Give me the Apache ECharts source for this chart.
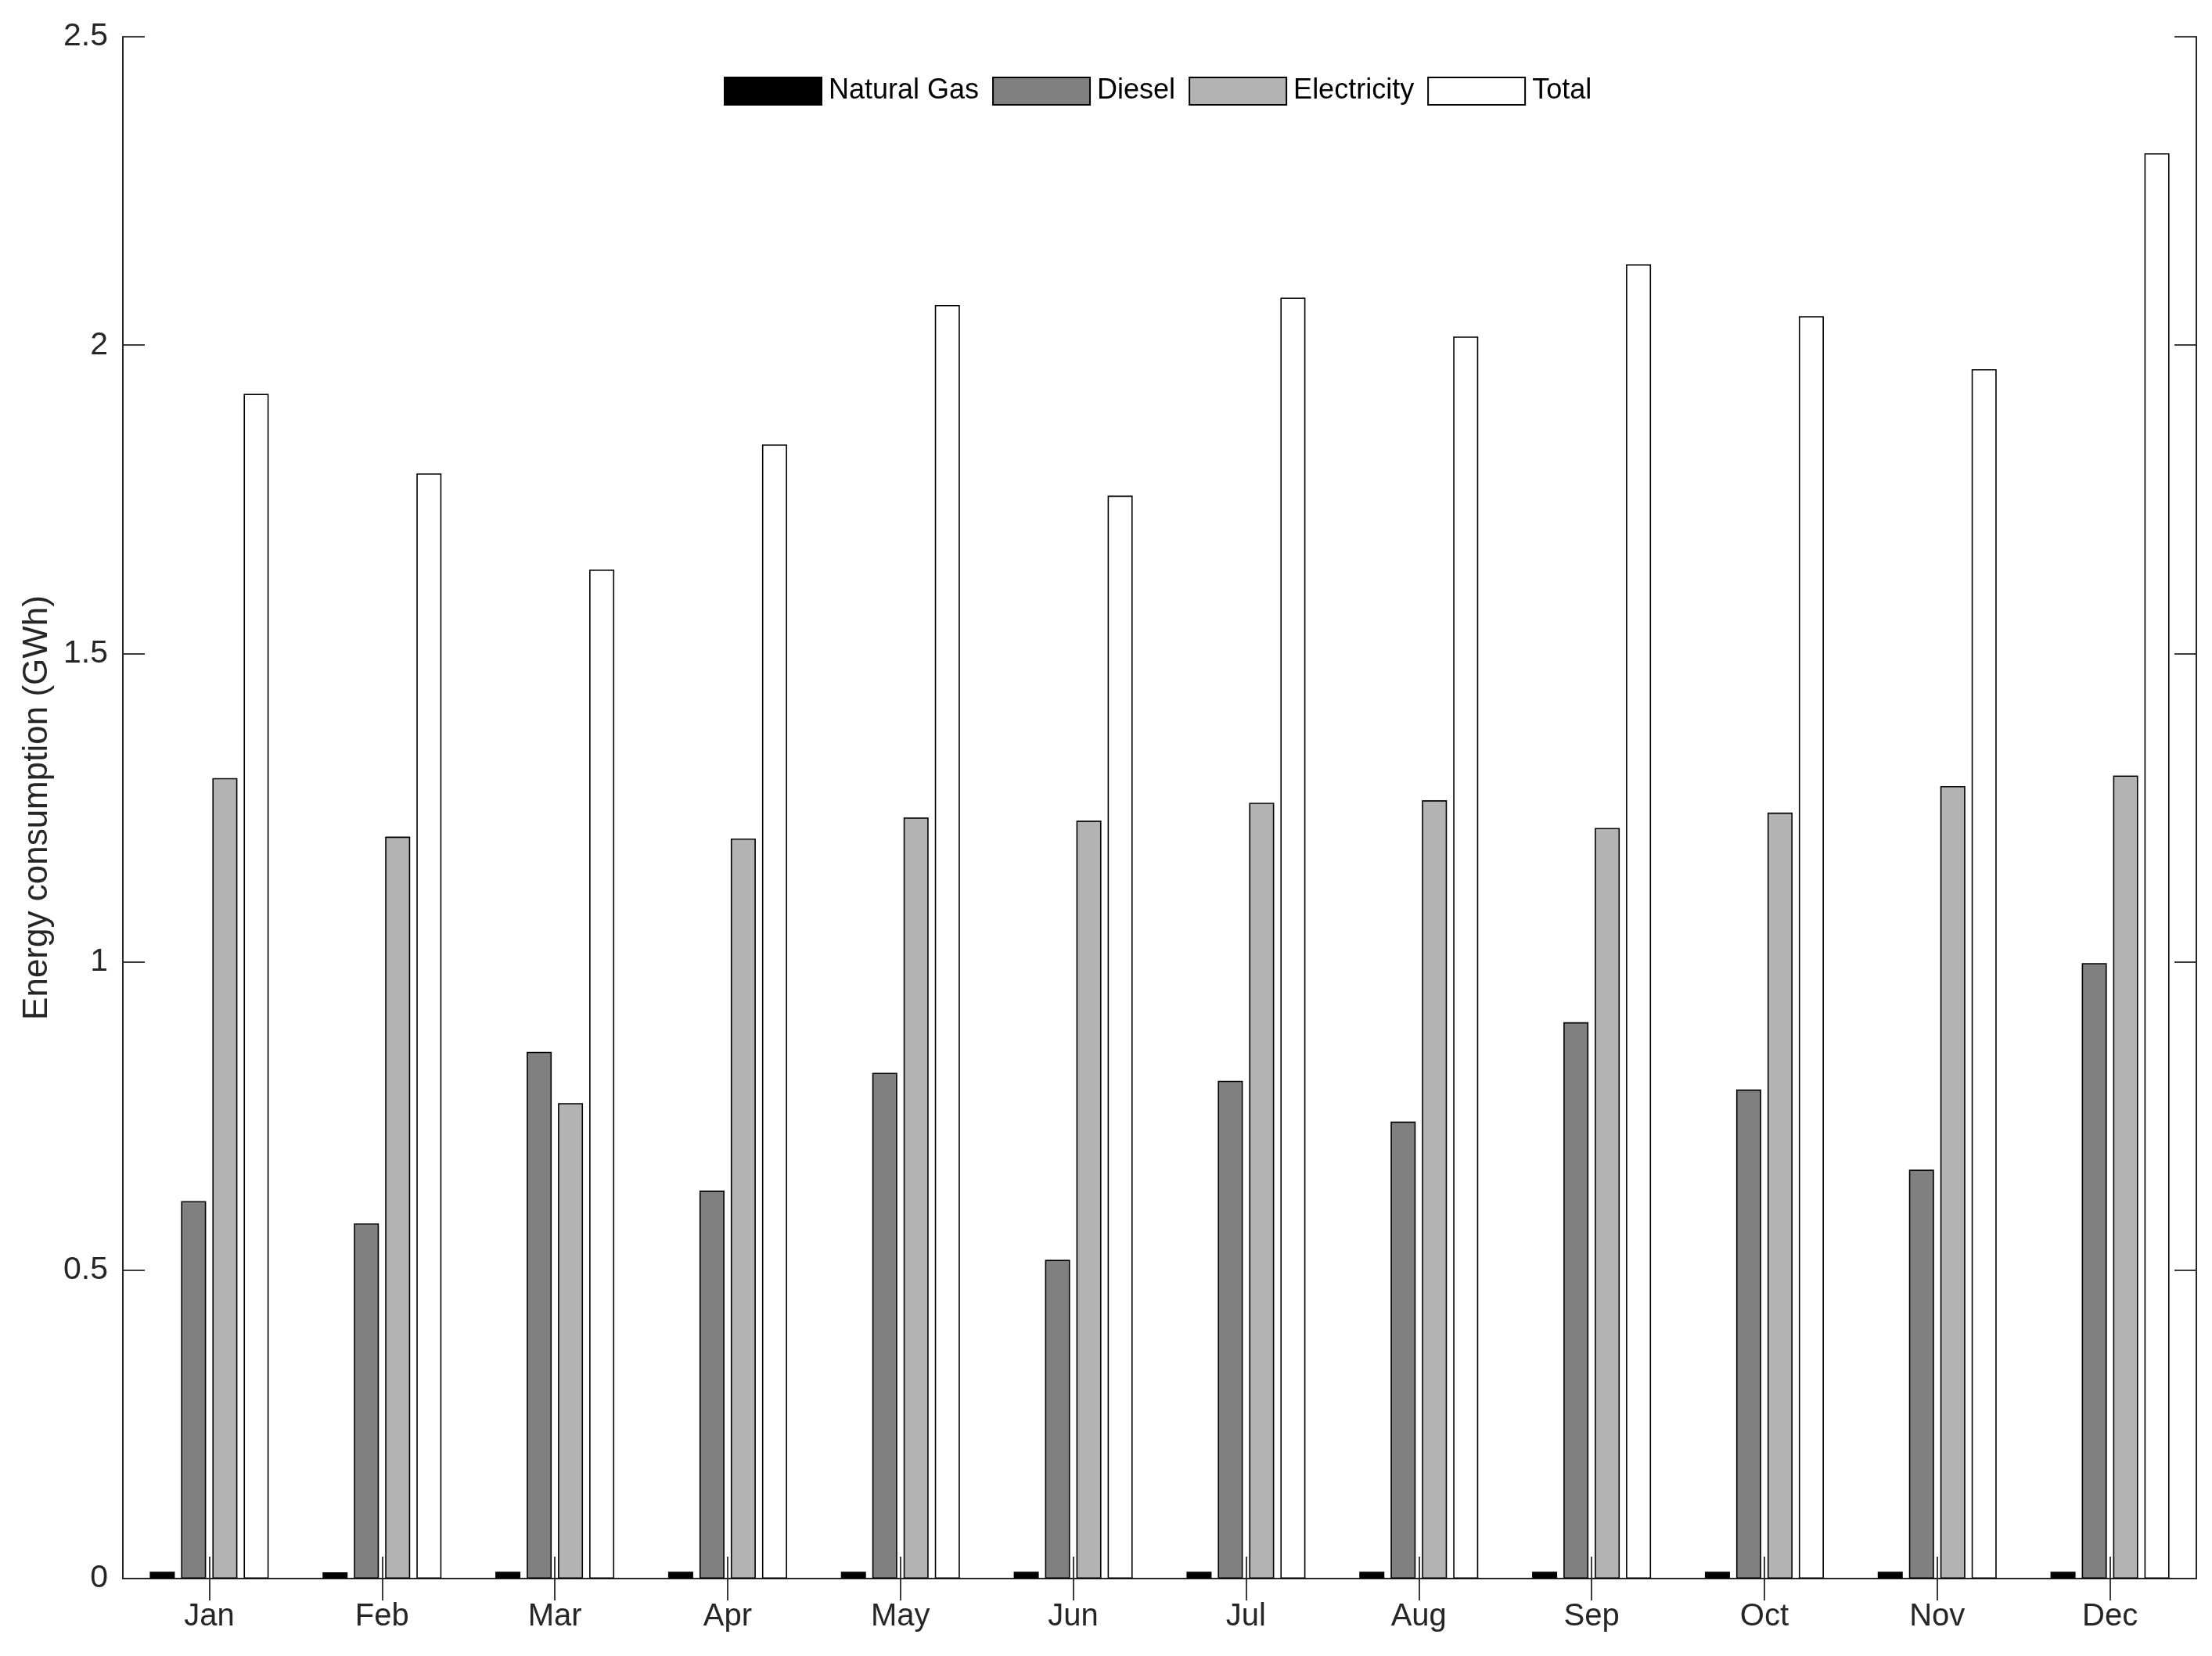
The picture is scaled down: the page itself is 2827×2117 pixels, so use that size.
<!DOCTYPE html>
<html>
<head>
<meta charset="utf-8">
<script src="https://cdn.jsdelivr.net/npm/echarts@6/dist/echarts.min.js"></script>
<style>
html,body{margin:0;padding:0;background:#fff;}
#chart{width:2827px;height:2117px;}
</style>
</head>
<body>
<div id="chart"></div>
<script>
const categories = ['Jan','Feb','Mar','Apr','May','Jun','Jul','Aug','Sep','Oct','Nov','Dec'];
const naturalGas = [0.011,0.010,0.011,0.011,0.011,0.011,0.011,0.011,0.011,0.011,0.011,0.011];
const diesel = [0.612,0.576,0.854,0.629,0.820,0.517,0.807,0.741,0.902,0.793,0.663,0.998];
const electricity = [1.298,1.203,0.771,1.200,1.234,1.229,1.258,1.262,1.217,1.242,1.285,1.302];
const total = [1.921,1.792,1.636,1.839,2.065,1.756,2.077,2.014,2.131,2.047,1.961,2.311];
const yTicks = {min:0, max:2.5, interval:0.5};
const seriesNames = ['Natural Gas','Diesel','Electricity','Total'];
const seriesColors = ['#000000','#808080','#b3b3b3','#ffffff'];

const axisColor = '#262626';
const font = 'Liberation Sans, Arial, sans-serif';
const chart = echarts.init(document.getElementById('chart'), null, {renderer:'canvas'});

const dataSets = [naturalGas, diesel, electricity, total];
const series = dataSets.map((d, i) => ({
  name: seriesNames[i],
  type: 'bar',
  xAxisIndex: 0,
  yAxisIndex: 0,
  data: d,
  barWidth: 32,
  barGap: '25%',
  itemStyle: {color: seriesColors[i], borderColor: '#000', borderWidth: 1.6},
  emphasis: {disabled: true}
}));

const tickStyle = {show:true, inside:true, length:28, lineStyle:{color:axisColor, width:1.8}};
const lineStyle = {show:true, lineStyle:{color:axisColor, width:2}};

chart.setOption({
  animation: false,
  backgroundColor: '#ffffff',
  grid: {left:157, top:47, right:20, bottom:99, containLabel:false},
  legend: {
    data: seriesNames,
    left: 925, top: 98,
    padding: 0,
    itemWidth: 124, itemHeight: 35, itemGap: 17,
    icon: 'rect',
    textStyle: {fontFamily: font, fontSize: 36, color: '#000', padding:[0,0,0,4]}
  },
  xAxis: [
    {type:'category', data: categories, position:'bottom', boundaryGap:true,
     axisLine: lineStyle,
     axisTick: Object.assign({alignWithLabel:true}, tickStyle),
     axisLabel: {fontFamily: font, fontSize: 40, color: axisColor, margin: 29},
     splitLine:{show:false}},
    {type:'category', data: categories, position:'top', boundaryGap:true,
     axisLine: lineStyle,
     axisTick: Object.assign({alignWithLabel:true}, tickStyle),
     axisLabel: {show:false}, splitLine:{show:false}}
  ],
  yAxis: [
    {type:'value', min: yTicks.min, max: yTicks.max, interval: yTicks.interval, position:'left',
     name: 'Energy consumption (GWh)', nameLocation:'middle', nameGap: 86,
     nameTextStyle: {fontFamily: font, fontSize: 44, color: axisColor},
     axisLine: lineStyle, axisTick: tickStyle,
     axisLabel: {fontFamily: font, fontSize: 41, color: axisColor, margin: 19},
     splitLine:{show:false}},
    {type:'value', min: yTicks.min, max: yTicks.max, interval: yTicks.interval, position:'right',
     axisLine: lineStyle, axisTick: tickStyle,
     axisLabel: {show:false}, splitLine:{show:false}}
  ],
  series: series
});
</script>
</body>
</html>
